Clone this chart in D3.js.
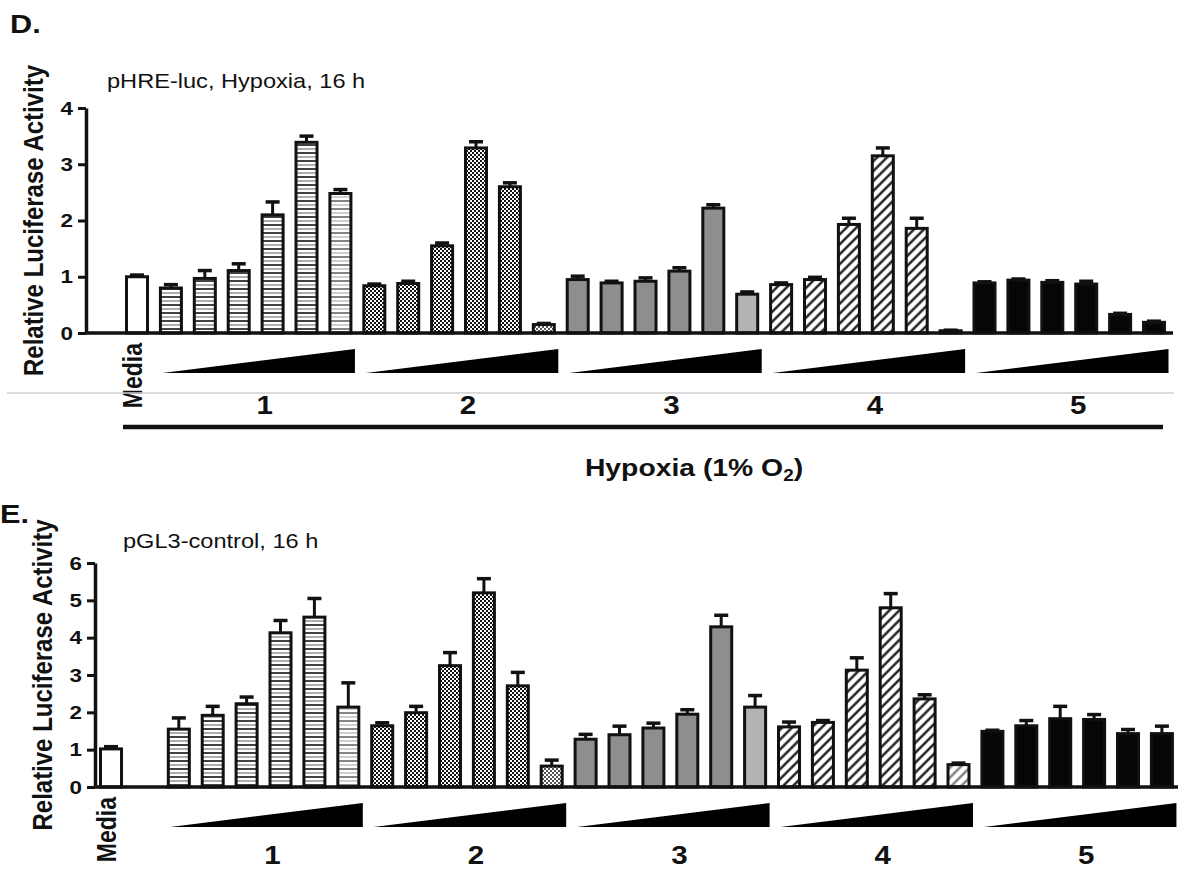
<!DOCTYPE html>
<html>
<head>
<meta charset="utf-8">
<script src="https://cdn.jsdelivr.net/npm/d3@7"></script>
<style>
  body { margin: 0; background: #fff; }
  text { font-family: "Liberation Sans", Arial, sans-serif; fill: #111; }
</style>
</head>
<body>
<svg id="chart" width="1181" height="871"></svg>
<script>
// ---- data ----
var groups = ["1", "2", "3", "4", "5"];

// D. pHRE-luc, Hypoxia, 16 h
var hreMedia = 1.0, hreMediaErr = 0.03;
var hreMeans = [
  [0.80, 0.97, 1.11, 2.10, 3.39, 2.48],
  [0.84, 0.88, 1.55, 3.29, 2.60, 0.15],
  [0.95, 0.89, 0.92, 1.10, 2.22, 0.69],
  [0.86, 0.95, 1.93, 3.15, 1.86, 0.04],
  [0.89, 0.94, 0.90, 0.87, 0.33, 0.19]
];
var hreErrs = [
  [0.06, 0.14, 0.12, 0.23, 0.11, 0.07],
  [0.03, 0.04, 0.05, 0.11, 0.07, 0.02],
  [0.06, 0.03, 0.06, 0.06, 0.06, 0.04],
  [0.03, 0.04, 0.11, 0.14, 0.18, 0.01],
  [0.02, 0.02, 0.03, 0.05, 0.02, 0.02]
];

// E. pGL3-control, 16 h
var glMedia = 1.02, glMediaErr = 0.06;
var glMeans = [
  [1.55, 1.92, 2.23, 4.13, 4.55, 2.14],
  [1.64, 1.99, 3.25, 5.20, 2.71, 0.56],
  [1.28, 1.40, 1.58, 1.95, 4.29, 2.14],
  [1.61, 1.73, 3.13, 4.80, 2.36, 0.60],
  [1.49, 1.64, 1.83, 1.81, 1.43, 1.43]
];
var glErrs = [
  [0.30, 0.24, 0.18, 0.33, 0.50, 0.65],
  [0.08, 0.17, 0.35, 0.38, 0.36, 0.16],
  [0.13, 0.23, 0.13, 0.12, 0.31, 0.31],
  [0.13, 0.05, 0.33, 0.38, 0.11, 0.04],
  [0.03, 0.14, 0.33, 0.13, 0.11, 0.20]
];

// ---- drawing ----
var svg = d3.select("#chart");
var SX = 1.18;      // the figure is a bit stretched sideways
var STEP = 33.9;    // bar pitch
var PAD = 0.38;

var defs = svg.append("defs");

function stripes(id, dark, light) {
  var p = defs.append("pattern").attr("id", id)
    .attr("patternUnits", "userSpaceOnUse").attr("width", 8).attr("height", 8);
  p.append("rect").attr("width", 8).attr("height", 8).attr("fill", "#fff");
  p.append("line").attr("x1", 0).attr("x2", 8).attr("y1", 1).attr("y2", 1)
    .attr("stroke", dark).attr("stroke-width", 1.6);
  p.append("line").attr("x1", 0).attr("x2", 8).attr("y1", 5).attr("y2", 5)
    .attr("stroke", light).attr("stroke-width", 1.4);
}
function checker(id, col) {
  var p = defs.append("pattern").attr("id", id)
    .attr("patternUnits", "userSpaceOnUse").attr("width", 4).attr("height", 4);
  p.append("rect").attr("width", 4).attr("height", 4).attr("fill", "#fff");
  p.append("rect").attr("width", 2).attr("height", 2).attr("fill", col);
  p.append("rect").attr("x", 2).attr("y", 2).attr("width", 2).attr("height", 2).attr("fill", col);
}
function hatch(id, col) {
  var p = defs.append("pattern").attr("id", id)
    .attr("patternUnits", "userSpaceOnUse").attr("width", 7).attr("height", 7)
    .attr("patternTransform", "rotate(45)");
  p.append("rect").attr("width", 7).attr("height", 7).attr("fill", "#fff");
  p.append("line").attr("x1", 3.5).attr("x2", 3.5).attr("y1", 0).attr("y2", 7)
    .attr("stroke", col).attr("stroke-width", 2.3);
}
stripes("stripes", "#111", "#8a8a8a");
stripes("stripesLight", "#666", "#bbb");
checker("checker", "#111");
checker("checkerLight", "#555");
hatch("hatch", "#111");
hatch("hatchLight", "#777");

function fillFor(gi, i) {
  var last = i === 5;
  if (gi === 0) return last ? "url(#stripesLight)" : "url(#stripes)";
  if (gi === 1) return last ? "url(#checkerLight)" : "url(#checker)";
  if (gi === 2) return last ? "#b3b3b3" : "#8e8e8e";
  if (gi === 3) return last ? "url(#hatchLight)" : "url(#hatch)";
  return "#060606";
}

function label(g, x, y, txt, size, weight, anchor, rotate) {
  return g.append("text")
    .attr("transform", `translate(${x},${y}) scale(${SX},1)` + (rotate ? " rotate(-90)" : ""))
    .attr("text-anchor", anchor)
    .attr("font-size", size)
    .attr("font-weight", weight)
    .text(txt);
}

function drawPanel(p) {
  var g = svg.append("g");

  var keys = ["Media"].concat(p.blank ? ["blank"] : []);
  groups.forEach(gr => d3.range(6).forEach(i => keys.push(gr + "-" + i)));

  var x = d3.scaleBand()
    .domain(keys)
    .range([p.barStart, p.barStart + STEP * (keys.length - PAD)])
    .paddingInner(PAD)
    .paddingOuter(0);

  var y = d3.scaleLinear().domain([0, p.ymax]).range([p.y0, p.yTop]);

  var rows = [{key: "Media", v: p.media, e: p.mediaErr, fill: "#fff"}];
  p.means.forEach(function(arr, gi) {
    arr.forEach(function(v, i) {
      rows.push({key: groups[gi] + "-" + i, v: v, e: p.errs[gi][i], fill: fillFor(gi, i)});
    });
  });

  // error bars (upper only)
  var err = g.append("g").attr("stroke", "#111").attr("stroke-width", 3);
  err.selectAll(".ev").data(rows).enter().append("line")
    .attr("x1", d => x(d.key) + x.bandwidth() / 2)
    .attr("x2", d => x(d.key) + x.bandwidth() / 2)
    .attr("y1", d => y(d.v))
    .attr("y2", d => y(d.v + d.e));
  err.selectAll(".cap").data(rows).enter().append("line")
    .attr("x1", d => x(d.key) + x.bandwidth() / 2 - 7)
    .attr("x2", d => x(d.key) + x.bandwidth() / 2 + 7)
    .attr("y1", d => y(d.v + d.e))
    .attr("y2", d => y(d.v + d.e))
    .attr("stroke-width", 3.5);

  g.selectAll(".bar").data(rows).enter().append("rect")
    .attr("x", d => x(d.key))
    .attr("y", d => y(d.v))
    .attr("width", x.bandwidth())
    .attr("height", d => y(0) - y(d.v))
    .attr("fill", d => d.fill)
    .attr("stroke", "#111")
    .attr("stroke-width", 3);

  // axes
  var yAxis = g.append("g")
    .attr("transform", `translate(${p.axisX},0)`)
    .call(d3.axisLeft(y)
      .tickValues(d3.range(0, p.ymax + 1))
      .tickFormat(d3.format("d"))
      .tickSize(8).tickSizeOuter(0).tickPadding(5));
  yAxis.select(".domain").attr("stroke", "#111").attr("stroke-width", 3.5);
  yAxis.selectAll(".tick line").attr("stroke", "#111").attr("stroke-width", 3);
  yAxis.selectAll(".tick text")
    .attr("font-size", 19).attr("font-weight", "bold")
    .attr("font-family", "Liberation Sans, Arial, sans-serif").attr("fill", "#111")
    .attr("x", -13 / SX)
    .attr("transform", `scale(${SX},1)`);

  g.append("line")
    .attr("x1", p.axisX).attr("x2", p.xEnd)
    .attr("y1", p.y0).attr("y2", p.y0)
    .attr("stroke", "#111").attr("stroke-width", 3.5);

  label(g, p.axisX - 53, (p.y0 + p.yTop) / 2, "Relative Luciferase Activity", 24, "bold", "middle", true)
    .attr("dy", "0.35em");

  // dose wedges and group numbers
  groups.forEach(function(gr) {
    var x0 = x(gr + "-0") + 2;
    var x1 = x(gr + "-5") + x.bandwidth() + 4;
    var top = p.y0 + 16, bot = p.y0 + 40;
    g.append("path")
      .attr("d", `M${x0},${bot}L${x1},${top}L${x1},${bot}Z`)
      .attr("fill", "#000");
    label(g, (x0 + x1) / 2 + 6, p.y0 + p.numDy, gr, 25, "bold", "middle", false);
  });

  label(g, x("Media") + x.bandwidth() / 2 - 5, p.y0 + 10, "Media", 23, "bold", "end", true)
    .attr("dy", "0.35em");

  label(g, p.titleX, p.titleY, p.title, 20, "normal", "start", false);

  label(g, p.letterX, p.letterY, p.letter, 26, "bold", "start", false)
    .attr("font-family", "'Open Sans', 'Liberation Sans', sans-serif");

  return g;
}

var gD = drawPanel({
  letter: "D.", letterX: 10, letterY: 33,
  title: "pHRE-luc, Hypoxia, 16 h", titleX: 107, titleY: 88,
  axisX: 86, y0: 333, yTop: 108, ymax: 4, xEnd: 1173,
  barStart: 126.5, blank: false, numDy: 81,
  media: hreMedia, mediaErr: hreMediaErr, means: hreMeans, errs: hreErrs
});

// separators and hypoxia bracket under panel D
gD.append("line").attr("x1", 7).attr("x2", 1174).attr("y1", 393).attr("y2", 393)
  .attr("stroke", "#cfcfcf").attr("stroke-width", 1.5);
gD.append("line").attr("x1", 123).attr("x2", 1163).attr("y1", 427).attr("y2", 427)
  .attr("stroke", "#111").attr("stroke-width", 4.5);

var hyp = gD.append("text")
  .attr("transform", `translate(694,476) scale(${SX},1)`)
  .attr("text-anchor", "middle")
  .attr("font-size", 24).attr("font-weight", "bold");
hyp.append("tspan").text("Hypoxia (1% O");
hyp.append("tspan").attr("font-size", 16).attr("dy", 5).text("2");
hyp.append("tspan").attr("dy", -5).text(")");

drawPanel({
  letter: "E.", letterX: 0, letterY: 523,
  title: "pGL3-control, 16 h", titleX: 123, titleY: 548,
  axisX: 95, y0: 787, yTop: 563, ymax: 6, xEnd: 1178,
  barStart: 100.5, blank: true, numDy: 77,
  media: glMedia, mediaErr: glMediaErr, means: glMeans, errs: glErrs
});
</script>
</body>
</html>
